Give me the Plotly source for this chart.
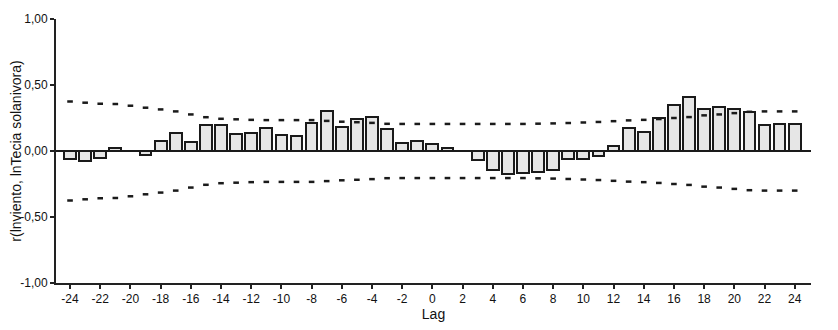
import plotly.graph_objects as go

lags = list(range(-24, 25))
ccf = [-0.06, -0.075, -0.05, 0.025, 0.0, -0.028, 0.078, 0.136, 0.07, 0.196,
       0.196, 0.13, 0.136, 0.174, 0.123, 0.116, 0.209, 0.305, 0.184, 0.24,
       0.26, 0.163, 0.058, 0.078, 0.055, 0.02, 0.0, -0.07, -0.143, -0.176,
       -0.168, -0.156, -0.143, -0.058, -0.058, -0.038, 0.035, 0.174, 0.143, 0.25,
       0.345, 0.408, 0.32, 0.335, 0.322, 0.295, 0.2, 0.206, 0.206]
upper = [0.375, 0.366, 0.358, 0.356, 0.343, 0.328, 0.315, 0.3, 0.277, 0.256,
         0.244, 0.24, 0.236, 0.234, 0.234, 0.234, 0.234, 0.228, 0.222, 0.218,
         0.213, 0.206, 0.205, 0.205, 0.205, 0.205, 0.205, 0.205, 0.205, 0.205,
         0.205, 0.207, 0.209, 0.212, 0.216, 0.22, 0.226, 0.232, 0.236, 0.242,
         0.25, 0.257, 0.27, 0.277, 0.287, 0.297, 0.3, 0.3, 0.3]
lower = [-u for u in upper]
xticks = list(range(-24, 25, 2))
xtick_text = [str(v) for v in xticks]
yticks = [-1.0, -0.5, 0.0, 0.5, 1.0]
ytick_text = ["-1,00", "-0,50", "0,00", "0,50", "1,00"]

fig = go.Figure()
fig.add_trace(go.Bar(x=lags, y=ccf, width=0.78,
                     marker=dict(color="#e6e6e6", line=dict(color="#1a1a1a", width=2))))
for b in (upper, lower):
    fig.add_trace(go.Scatter(x=lags, y=b, mode="markers",
                             marker=dict(symbol="line-ew", size=4,
                                         line=dict(color="#1a1a1a", width=2.5))))
fig.add_shape(type="line", xref="paper", yref="y", x0=0, x1=1, y0=0, y1=0,
              line=dict(color="#1a1a1a", width=2))

font = dict(family="Liberation Sans, Arial, sans-serif", size=12, color="#111")
# page body has an 8px margin; figure is sized/shifted to compensate
fig.update_layout(
    width=830, height=322,
    margin=dict(l=48, r=27, t=11, b=47),
    paper_bgcolor="white", plot_bgcolor="white",
    showlegend=False, font=font, bargap=0,
    xaxis=dict(range=[-24.93, 25.08], tickvals=xticks, ticktext=xtick_text,
               ticks="outside", ticklen=4, automargin=False,
               tickwidth=1.5, tickcolor="#222", showline=True, linecolor="#222", linewidth=2,
               showgrid=False, zeroline=False, title=dict(text="Lag", standoff=2),
               tickfont=font),
    yaxis=dict(range=[-1, 1], tickvals=yticks, ticktext=ytick_text, ticks="outside",
               ticklen=4, tickwidth=1.5, tickcolor="#222", showline=True, linecolor="#222",
               linewidth=2, showgrid=False, zeroline=False, automargin=False,
               title=dict(text="r(lnviento, lnTecia solanivora)", standoff=6),
               tickfont=font),
)
fig.write_html("out.html")
